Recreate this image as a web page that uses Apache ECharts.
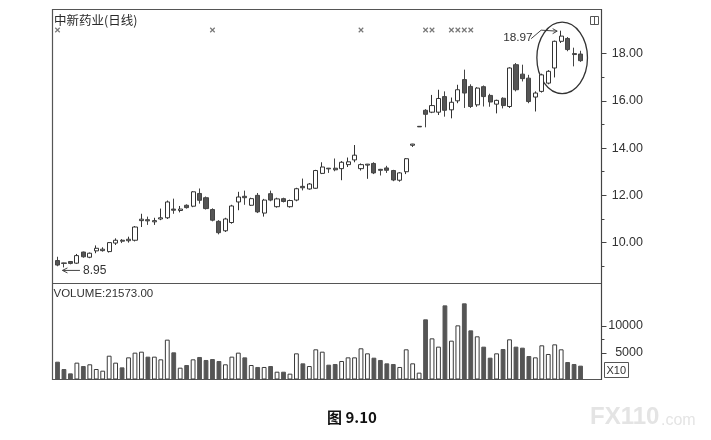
<!DOCTYPE html>
<html>
<head>
<meta charset="utf-8">
<script src="https://cdn.jsdelivr.net/npm/echarts@6/dist/echarts.min.js"></script>
<style>html,body{margin:0;padding:0;background:#fff;}#c{width:711px;height:440px;}</style>
</head>
<body>
<div id="c"></div>
<script>
const categories = [1,2,3,4,5,6,7,8,9,10,11,12,13,14,15,16,17,18,19,20,21,22,23,24,25,26,27,28,29,30,31,32,33,34,35,36,37,38,39,40,41,42,43,44,45,46,47,48,49,50,51,52,53,54,55,56,57,58,59,60,61,62,63,64,65,66,67,68,69,70,71,72,73,74,75,76,77,78,79,80,81,82];
const opens = [9.24,9.14,9.20,9.13,9.60,9.38,9.65,9.66,9.62,9.98, 10.10,10.08,10.10,10.93,10.97,10.88,11.00,11.05,11.42,11.36, 11.58,11.54,12.08,11.90,11.40,10.90,10.50,10.85,11.72,11.96, 11.58,12.00,11.25,12.07,11.52,11.86,11.52,11.80,12.38,12.27, 12.30,12.93,13.15,13.15,13.13,13.30,13.50,13.13,13.28,13.35, 13.10,13.16,13.05,12.64,13.00,14.12,14.90,15.60,15.52,15.52, 16.18,15.62,16.00,16.90,16.61,15.83,16.60,16.23,15.86,16.11, 15.76,17.53,17.13,16.96,16.16,16.40,16.75,17.39,18.52,18.64, 18.00,17.98];
const closes = [9.05,9.12,9.12,9.45,9.40,9.55,9.76,9.72,10.00,10.10, 10.06,10.14,10.66,10.99,10.92,10.93,11.05,11.72,11.37,11.42, 11.48,12.15,11.79,11.44,10.95,10.42,11.00,11.55,11.93,11.90, 11.86,11.30,11.80,11.80,11.85,11.74,11.78,12.28,12.32,12.48, 13.05,13.20,13.12,13.08,13.40,13.42,13.70,13.30,13.32,12.95, 13.06,13.06,12.65,12.95,13.55,14.17,14.92,15.43,15.80,16.10, 15.60,15.94,16.47,16.33,15.76,16.54,16.18,15.95,16.02,15.80, 17.39,16.47,16.94,15.97,16.33,17.10,17.25,18.52,18.74,18.17, 17.96,17.70];
const lows = [9.00,8.95,9.08,9.10,9.36,9.34,9.55,9.62,9.58,9.90, 9.98,10.00,10.05,10.66,10.75,10.75,10.95,11.00,11.22,11.28, 11.44,11.50,11.65,11.40,10.90,10.35,10.45,10.80,11.37,11.60, 11.55,11.25,11.10,11.75,11.48,11.70,11.48,11.75,12.21,12.24, 12.28,12.90,12.95,13.02,12.64,13.20,13.40,13.05,12.70,12.90, 12.84,12.95,12.60,12.58,12.90,14.05,14.90,14.88,15.48,15.40, 15.33,15.26,15.90,15.70,15.70,15.75,15.76,15.75,15.47,15.68, 15.70,16.40,16.82,15.90,15.55,16.35,16.70,16.99,18.45,18.10, 17.46,17.65];
const highs = [9.40,9.15,9.22,9.52,9.62,9.58,9.88,9.80,10.02,10.18, 10.15,10.25,10.70,11.22,11.10,11.05,11.44,11.78,11.86,11.55, 11.62,12.18,12.29,11.95,11.45,10.95,11.05,11.60,12.15,12.20, 11.90,12.10,11.85,12.20,11.90,11.90,11.82,12.32,12.71,12.52, 13.08,13.40,13.16,13.56,13.45,13.60,14.13,13.35,13.33,13.40, 13.12,13.25,13.08,12.98,13.58,14.18,14.92,15.65,16.25,16.47, 16.40,16.14,16.68,17.32,16.70,16.58,16.65,16.30,16.05,16.15, 17.42,17.60,17.53,17.10,16.40,17.15,17.30,18.55,18.97,18.70, 18.25,18.12];
const volumes = [3330,1960,1150,3150,2520,2840,1960,1650,4450,3150, 2270,4140,5020,5200,4270,4270,3770,7450,5080,2210, 2710,3770,4210,3650,3830,3460,2840,4270,5020,4140, 2710,2340,2340,2520,1460,1460,1090,4890,3020,2520, 5640,5200,2770,2900,3460,4140,4140,5830,4890,4080, 3650,3020,2900,2340,5640,3020,1280,11250,7690,6140, 13860,7260,10120,14240,9190,8070,6140,4080,4890,5700, 7510,6140,5950,4390,4140,6390,4770,6570,5640,3270, 2900,2590];
const markDays = [0,24,47,57,58,61,62,63,64];
const markLevel = 19.0;
const priceLabels = [10,12,14,16,18];
const priceMinorTicks = [9,11,13,15,17];
const volLabels = [5000,10000];
const volMinorTicks = [7500];
const titleText = '中新药业(日线)';
const volText = 'VOLUME:21573.00';
const lowMark = {day: 1, value: 8.95, text: '8.95'};
const highMark = {day: 78, value: 18.97, text: '18.97'};

const FONT = '"Liberation Sans", Arial, sans-serif';
const chart = echarts.init(document.getElementById('c'), null, {renderer: 'canvas'});

const kData = opens.map((o, i) => [o, closes[i], lows[i], highs[i]]);
const vData = volumes.map((v, i) => ({
  value: v,
  itemStyle: closes[i] >= opens[i]
    ? {color: '#ffffff', borderColor: '#3a3a3a', borderWidth: 1}
    : {color: '#555555', borderColor: '#555555', borderWidth: 1}
}));
const xData = markDays.map(d => [d, markLevel]);

const gridL = 54.27, gridR = 127.23, axisOff = 17.7;
const commonX = {type: 'category', data: categories, boundaryGap: true,
  axisLine: {show: false}, axisTick: {show: false}, axisLabel: {show: false}, splitLine: {show: false}};

const option = {
  animation: false,
  backgroundColor: '#ffffff',
  grid: [
    {left: gridL, right: gridR, top: 9.5, height: 274},
    {left: gridL, right: gridR, top: 283.5, height: 96}
  ],
  xAxis: [Object.assign({gridIndex: 0}, commonX), Object.assign({gridIndex: 1}, commonX)],
  yAxis: [
    {gridIndex: 0, type: 'value', position: 'right', offset: axisOff, min: 8.269, max: 19.866,
      axisLine: {show: true, lineStyle: {color: '#444', width: 1}},
      axisTick: {show: true, customValues: priceLabels, length: 5, lineStyle: {color: '#444'}},
      axisLabel: {show: true, customValues: priceLabels, formatter: v => Number(v).toFixed(2),
        align: 'right', margin: 41.5, color: '#333', fontSize: 12.5, fontFamily: FONT},
      splitLine: {show: false}},
    {gridIndex: 0, type: 'value', position: 'right', offset: axisOff, min: 8.269, max: 19.866,
      axisLine: {show: false},
      axisTick: {show: true, customValues: priceMinorTicks, length: 3, lineStyle: {color: '#444'}},
      axisLabel: {show: false}, splitLine: {show: false}},
    {gridIndex: 1, type: 'value', position: 'right', offset: axisOff, min: 0, max: 17944,
      axisLine: {show: true, lineStyle: {color: '#444', width: 1}},
      axisTick: {show: true, customValues: volLabels, length: 5, lineStyle: {color: '#444'}},
      axisLabel: {show: true, customValues: volLabels, formatter: v => String(Math.round(v)),
        align: 'right', margin: 41.5, color: '#333', fontSize: 12.5, fontFamily: FONT},
      splitLine: {show: false}},
    {gridIndex: 1, type: 'value', position: 'right', offset: axisOff, min: 0, max: 17944,
      axisLine: {show: false},
      axisTick: {show: true, customValues: volMinorTicks, length: 3, lineStyle: {color: '#444'}},
      axisLabel: {show: false}, splitLine: {show: false}}
  ],
  series: [
    {type: 'candlestick', xAxisIndex: 0, yAxisIndex: 0, data: kData, barWidth: 4.6,
      itemStyle: {color: '#ffffff', color0: '#555555', borderColor: '#333333', borderColor0: '#444444', borderWidth: 1}},
    {type: 'scatter', xAxisIndex: 0, yAxisIndex: 0, data: xData, symbol: 'path://M0,0L10,10M10,0L0,10',
      symbolSize: 4.5, itemStyle: {color: 'rgba(0,0,0,0)', borderColor: '#555', borderWidth: 1.2}},
    {type: 'bar', xAxisIndex: 1, yAxisIndex: 2, data: vData, barWidth: 4.8}
  ]
};
chart.setOption(option);

const pLow = chart.convertToPixel({xAxisIndex: 0, yAxisIndex: 0}, [lowMark.day, lowMark.value]);
const pHigh = chart.convertToPixel({xAxisIndex: 0, yAxisIndex: 0}, [highMark.day, highMark.value]);
const pEll = chart.convertToPixel({xAxisIndex: 0, yAxisIndex: 0}, [highMark.day, 17.82]);
const lineS = {stroke: '#444', lineWidth: 1, fill: null};

const g = [
  {type: 'rect', shape: {x: 52.5, y: 9.5, width: 549, height: 370}, style: {fill: null, stroke: '#555', lineWidth: 1.2}, silent: true},
  {type: 'line', shape: {x1: 52.5, y1: 283.5, x2: 601.5, y2: 283.5}, style: {stroke: '#555', lineWidth: 1.2}},
  {type: 'text', style: {text: titleText, x: 54, y: 20.5, verticalAlign: 'middle', fill: '#2a2a2a',
    font: '12.5px "Noto Sans CJK SC", sans-serif'}},
  {type: 'text', style: {text: volText, x: 53.5, y: 293.5, verticalAlign: 'middle', fill: '#333',
    font: '11.5px ' + FONT}},
  {type: 'rect', shape: {x: 590.5, y: 16.5, width: 8, height: 8}, style: {fill: null, stroke: '#555', lineWidth: 1}},
  {type: 'line', shape: {x1: 594.5, y1: 16.5, x2: 594.5, y2: 24.5}, style: {stroke: '#555', lineWidth: 1}},
  {type: 'rect', shape: {x: 604.5, y: 362.5, width: 24, height: 15}, style: {fill: null, stroke: '#555', lineWidth: 1}},
  {type: 'text', style: {text: 'X10', x: 606.5, y: 370.5, verticalAlign: 'middle', fill: '#333', font: '11px ' + FONT}},
  {type: 'line', shape: {x1: pLow[0] + 16, y1: pLow[1] + 3, x2: pLow[0] - 1.5, y2: pLow[1] + 3}, style: lineS},
  {type: 'polyline', shape: {points: [[pLow[0] + 3.5, pLow[1] + 0.5], [pLow[0] - 1.5, pLow[1] + 3], [pLow[0] + 3.5, pLow[1] + 5.5]]}, style: lineS},
  {type: 'text', style: {text: lowMark.text, x: pLow[0] + 19, y: pLow[1] + 3, verticalAlign: 'middle', fill: '#333', font: '12px ' + FONT}},
  {type: 'text', style: {text: highMark.text, x: pHigh[0] - 28.5, y: pHigh[1] + 7, align: 'right', verticalAlign: 'middle', fill: '#333', font: '11.8px ' + FONT}},
  {type: 'polyline', shape: {points: [[pHigh[0] - 30, pHigh[1] + 8], [pHigh[0] - 20, pHigh[1] - 0.5], [pHigh[0] - 4, pHigh[1] + 0.5]]}, style: lineS},
  {type: 'polyline', shape: {points: [[pHigh[0] - 8.5, pHigh[1] - 2], [pHigh[0] - 4, pHigh[1] + 0.5], [pHigh[0] - 8.5, pHigh[1] + 3]]}, style: lineS},
  {type: 'ellipse', shape: {cx: pEll[0] + 1, cy: pEll[1], rx: 25.3, ry: 35.7}, style: {fill: null, stroke: '#333', lineWidth: 1.3}},
  {type: 'text', style: {text: '图 9.10', x: 352, y: 417, align: 'center', verticalAlign: 'middle', fill: '#111',
    font: 'bold 15px "Noto Sans CJK SC", sans-serif'}},
  {type: 'text', style: {text: 'FX110', x: 590, y: 417, verticalAlign: 'middle', fill: '#e4e4e4', font: 'bold 24px ' + FONT}},
  {type: 'text', style: {text: '.com', x: 661, y: 421, verticalAlign: 'middle', fill: '#e4e4e4', font: '16px ' + FONT}}
];
chart.setOption({graphic: g});
</script>
</body>
</html>
